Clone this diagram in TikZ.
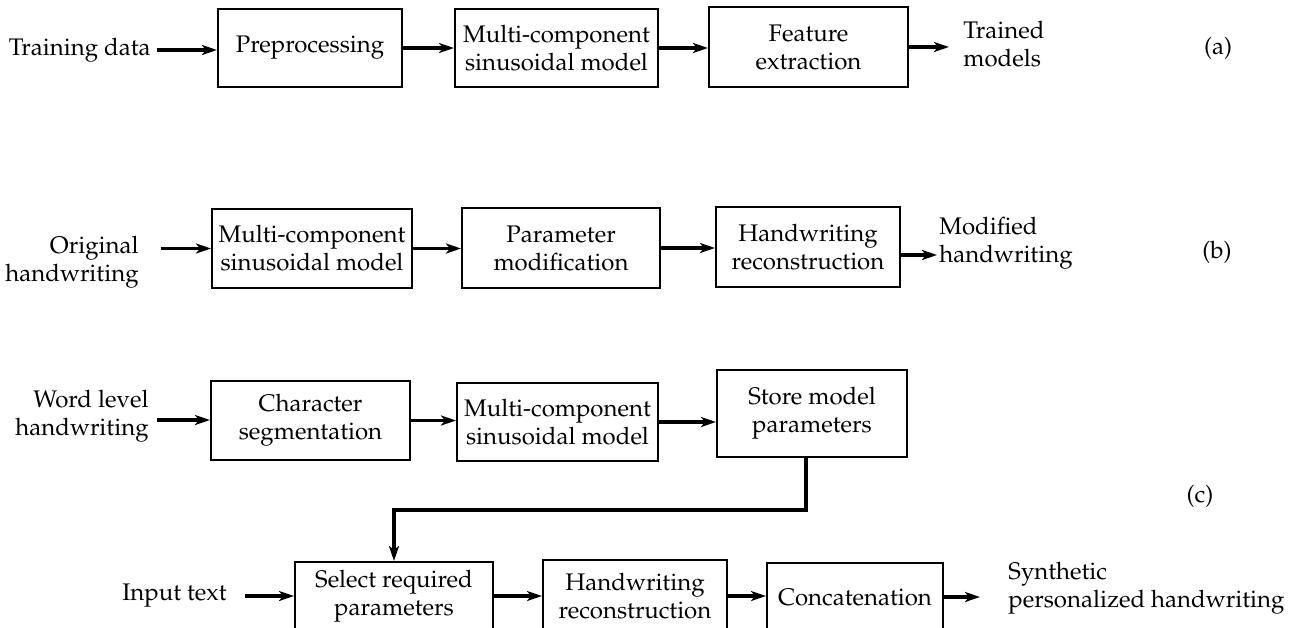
\documentclass[tikz,border=0pt]{standalone}
\usepackage[T1]{fontenc}
\usepackage{mathpazo}
\usepackage{xcolor}
\usetikzlibrary{arrows.meta}

\begin{document}
\begin{tikzpicture}[x=0.5pt,y=-0.5pt,
    blk/.style={draw,line width=1pt,align=center,inner sep=1pt,font=\large},
    lbl/.style={inner sep=1pt,font=\large},
    flow/.style={line width=1.8pt,-{Stealth[length=7.5pt,width=5pt,inset=2pt]}}]
    \useasboundingbox (0,0) rectangle (1290,627);

    % (a) training
    \node[lbl,anchor=east] (tdata) at (153,50) {Training data};
    \node[blk,minimum width=92pt,minimum height=39pt] (pre) at (310,48) {Preprocessing};
    \node[blk,minimum width=101.5pt,minimum height=39pt] (mcsA) at (556.5,48) {Multi-component\\sinusoidal model};
    \node[blk,minimum width=99.5pt,minimum height=40pt] (feat) at (808.5,47) {Feature\\extraction};
    \node[lbl,anchor=west,align=left] (trained) at (961,44) {Trained\\models};
    \node[lbl] (la) at (1218,48) {(a)};

    \draw[flow,shorten <=2pt] (tdata.east) -- (tdata.east -| pre.west);
    \draw[flow] (pre.east) -- (pre.east -| mcsA.west);
    \draw[flow] (mcsA.east) -- (mcsA.east -| feat.west);
    \draw[flow] (feat.east) -- ([xshift=-6pt]feat.east -| trained.west);

    % (b) modification
    \node[lbl,anchor=east,align=right] (orig) at (141,262) {Original\\handwriting};
    \node[blk,minimum width=100pt,minimum height=39.5pt] (mcsB) at (312,248.5) {Multi-component\\sinusoidal model};
    \node[blk,minimum width=99pt,minimum height=40pt] (par) at (561,248) {Parameter\\modification};
    \node[blk,minimum width=92pt,minimum height=40pt] (recB) at (808,247) {Handwriting\\reconstruction};
    \node[lbl,anchor=west,align=left] (mod) at (937,243) {Modified\\handwriting};
    \node[lbl] (lb) at (1217,252) {(b)};

    \draw[flow,shorten <=10pt] (orig.east |- mcsB.west) -- (mcsB.west);
    \draw[flow] (mcsB.east) -- (mcsB.east -| par.west);
    \draw[flow] (par.east) -- (par.east -| recB.west);
    \draw[flow] ([yshift=-4pt]recB.east) -- ([yshift=-4pt]recB.east -| mod.west);

    % (c) synthesis
    \node[lbl,anchor=east,align=right] (word) at (151,416) {Word level\\handwriting};
    \node[blk,minimum width=99.5pt,minimum height=39.5pt] (seg) at (310.5,420.5) {Character\\segmentation};
    \node[blk,minimum width=100.5pt,minimum height=39pt] (mcsC) at (557.5,422) {Multi-component\\sinusoidal model};
    \node[blk,minimum width=95pt,minimum height=43.5pt] (store) at (812,413.5) {Store model\\parameters};
    \node[lbl] (lc) at (1200,496) {(c)};

    \draw[flow] ([xshift=3pt,yshift=-2pt]word.east) -- ([yshift=-2pt]word.east -| seg.west);
    \draw[flow] (seg.east) -- (seg.east -| mcsC.west);
    \draw[flow] (mcsC.east) -- (mcsC.east -| store.west);

    \node[lbl,anchor=east] (inp) at (229,596) {Input text};
    \node[blk,minimum width=99pt,minimum height=34pt] (sel) at (394,596) {Select required\\parameters};
    \node[blk,minimum width=92pt,minimum height=36pt] (rec) at (635,596) {Handwriting\\reconstruction};
    \node[blk,minimum width=88pt,minimum height=34pt] (cat) at (855,597) {Concatenation};
    \node[lbl,anchor=west,align=left] (syn) at (1006,588) {Synthetic\\personalized handwriting};

    \draw[flow,shorten <=8pt] (inp.east) -- (inp.east -| sel.west);
    \draw[flow] (sel.east) -- (sel.east -| rec.west);
    \draw[flow] (rec.east) -- (rec.east -| cat.west);
    \draw[flow] (cat.east) -- ([xshift=-13pt]cat.east -| syn.west);

    % feedback to selection
    \draw[flow] ([xshift=-3pt]store.south) -- ([xshift=-3pt]store.south |- 0,510) -| (sel.north);

\end{tikzpicture}
\end{document}
